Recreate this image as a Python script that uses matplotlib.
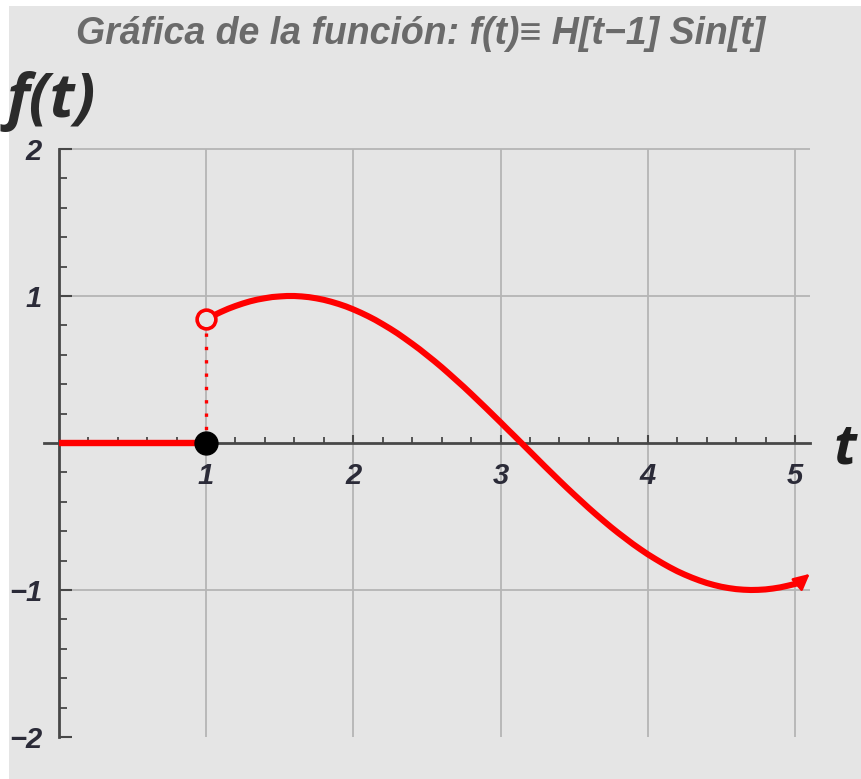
import matplotlib
matplotlib.use("Agg")
import matplotlib.pyplot as plt
from matplotlib.ticker import FixedLocator, NullFormatter
from matplotlib.patches import Rectangle, FancyArrowPatch

# ---------------- data ----------------
t_zero = [0.0, 1.0]
f_zero = [0.0, 0.0]

t_sin = [1.00, 1.05, 1.10, 1.15, 1.20, 1.25, 1.30, 1.35, 1.40, 1.45,
         1.50, 1.55, 1.60, 1.65, 1.70, 1.75, 1.80, 1.85, 1.90, 1.95,
         2.00, 2.05, 2.10, 2.15, 2.20, 2.25, 2.30, 2.35, 2.40, 2.45,
         2.50, 2.55, 2.60, 2.65, 2.70, 2.75, 2.80, 2.85, 2.90, 2.95,
         3.00, 3.05, 3.10, 3.15, 3.20, 3.25, 3.30, 3.35, 3.40, 3.45,
         3.50, 3.55, 3.60, 3.65, 3.70, 3.75, 3.80, 3.85, 3.90, 3.95,
         4.00, 4.05, 4.10, 4.15, 4.20, 4.25, 4.30, 4.35, 4.40, 4.45,
         4.50, 4.55, 4.60, 4.65, 4.70, 4.75, 4.80, 4.85, 4.90, 4.95,
         5.00, 5.03]
f_sin = [0.841, 0.867, 0.891, 0.913, 0.932, 0.949, 0.964, 0.976, 0.985, 0.993,
         0.997, 1.000, 1.000, 0.997, 0.992, 0.984, 0.974, 0.961, 0.946, 0.929,
         0.909, 0.887, 0.863, 0.837, 0.808, 0.778, 0.746, 0.711, 0.675, 0.638,
         0.598, 0.558, 0.516, 0.472, 0.427, 0.382, 0.335, 0.287, 0.239, 0.190,
         0.141, 0.091, 0.042, -0.008, -0.058, -0.108, -0.158, -0.207, -0.256, -0.304,
         -0.351, -0.397, -0.443, -0.487, -0.530, -0.572, -0.612, -0.650, -0.688, -0.723,
         -0.757, -0.788, -0.818, -0.846, -0.872, -0.895, -0.916, -0.935, -0.952, -0.966,
         -0.978, -0.987, -0.994, -0.998, -1.000, -0.999, -0.996, -0.990, -0.982, -0.971,
         -0.959, -0.950]
arrow_tip = (5.1, -0.89)

jump_t = 1.0
jump_low = 0.0
jump_high = 0.841

x_major = [1, 2, 3, 4, 5]
x_labels = ["1", "2", "3", "4", "5"]
y_major = [-2, -1, 1, 2]
y_labels = ["\u22122", "\u22121", "1", "2"]
x_minor = [0.2, 0.4, 0.6, 0.8, 1.2, 1.4, 1.6, 1.8, 2.2, 2.4, 2.6, 2.8,
           3.2, 3.4, 3.6, 3.8, 4.2, 4.4, 4.6, 4.8, 5.0]
y_minor = [-1.8, -1.6, -1.4, -1.2, -0.8, -0.6, -0.4, -0.2,
           0.2, 0.4, 0.6, 0.8, 1.2, 1.4, 1.6, 1.8]
grid_x = [1, 2, 3, 4, 5]
grid_y = [-1, 1, 2]

title = "Gráfica de la función: f(t)\u2261 H[t\u22121] Sin[t]"

# ---------------- styling ----------------
BG = "#e5e5e5"
AX = "#474747"
GRID = "#b5b5b5"
RED = "#ff0000"
LBL = "#2b2b38"
TFONT = ["Liberation Sans Narrow", "Liberation Sans", "DejaVu Sans"]
BFONT = ["Open Sans", "DejaVu Sans"]

fig = plt.figure(figsize=(8.61, 7.79), dpi=100)
fig.patch.set_facecolor("white")
fig.patches.append(Rectangle((9 / 861, 0), 1, 1 - 6 / 779, transform=fig.transFigure,
                             facecolor=BG, edgecolor="none", zorder=-10))

ax = fig.add_axes([0.01696, 0.01617, 0.9748, 0.8303])
ax.set_facecolor("none")
ax.set_xlim(-0.3, 5.4)
ax.set_ylim(-2.2, 2.2)

for s in ["top", "right"]:
    ax.spines[s].set_visible(False)
ax.spines["left"].set_position(("data", 0))
ax.spines["bottom"].set_position(("data", 0))
ax.spines["left"].set_bounds(-2, 2)
ax.spines["bottom"].set_bounds(-0.1, 5.1)
for s in ["left", "bottom"]:
    ax.spines[s].set_color(AX)
    ax.spines[s].set_linewidth(2.0)
    ax.spines[s].set_zorder(3)

ax.xaxis.set_major_locator(FixedLocator(x_major))
ax.set_xticklabels(x_labels)
ax.xaxis.set_minor_locator(FixedLocator(x_minor))
ax.yaxis.set_major_locator(FixedLocator(y_major))
ax.set_yticklabels(y_labels)
ax.yaxis.set_minor_locator(FixedLocator(y_minor))
ax.xaxis.set_minor_formatter(NullFormatter())
ax.yaxis.set_minor_formatter(NullFormatter())

ax.tick_params(axis="x", which="major", direction="in", length=6, width=1.5, color=AX, pad=14)
ax.tick_params(axis="x", which="minor", direction="in", length=4, width=1.3, color=AX)
ax.tick_params(axis="y", which="major", direction="in", length=9, width=1.5, color=AX, pad=12)
ax.tick_params(axis="y", which="minor", direction="in", length=6, width=1.3, color=AX)
for lab in ax.get_xticklabels() + ax.get_yticklabels():
    lab.set_fontfamily(TFONT)
    lab.set_fontweight("bold")
    lab.set_fontstyle("italic")
    lab.set_fontsize(21)
    lab.set_color(LBL)

# grid
ax.vlines(grid_x, -2, 2, colors=GRID, linewidth=1.3, zorder=1)
ax.hlines(grid_y, 0, 5.1, colors=GRID, linewidth=1.3, zorder=1)

# curve
ax.plot(t_zero, f_zero, color=RED, linewidth=4.6, solid_capstyle="butt", zorder=4)
ax.plot(t_sin, f_sin, color=RED, linewidth=4.4, solid_joinstyle="round",
        solid_capstyle="round", zorder=4)
ax.add_patch(FancyArrowPatch((t_sin[-1], f_sin[-1]), arrow_tip, arrowstyle="-|>",
                             mutation_scale=24, color=RED, linewidth=2, zorder=4,
                             shrinkA=0, shrinkB=0))
# dotted jump
ax.plot([jump_t, jump_t], [jump_low, jump_high], color=RED, linewidth=2.4,
        linestyle=(0, (1.0, 3.0)), zorder=3)
ax.plot([jump_t], [jump_high], marker="o", markersize=13.5, markerfacecolor=BG,
        markeredgecolor=RED, markeredgewidth=2.6, zorder=5)
ax.plot([jump_t], [jump_low], marker="o", markersize=16.5, markerfacecolor="black",
        markeredgecolor="black", zorder=5)

# texts
fig.text(0.488, 0.956, title, ha="center", va="center", fontsize=27,
         fontfamily=TFONT, fontweight="bold", fontstyle="italic", color="#6a6a6a")
fig.text(0.008, 0.870, "f(t)", ha="left", va="center", fontsize=44,
         fontfamily=BFONT, fontweight="bold", fontstyle="italic", color="#2b2b2b")
fig.text(0.981, 0.405, "t", ha="center", va="baseline", fontsize=40,
         fontfamily=BFONT, fontweight="bold", fontstyle="italic", color="#1e1e1e")

fig.savefig("out.png", dpi=100, facecolor=fig.get_facecolor())
